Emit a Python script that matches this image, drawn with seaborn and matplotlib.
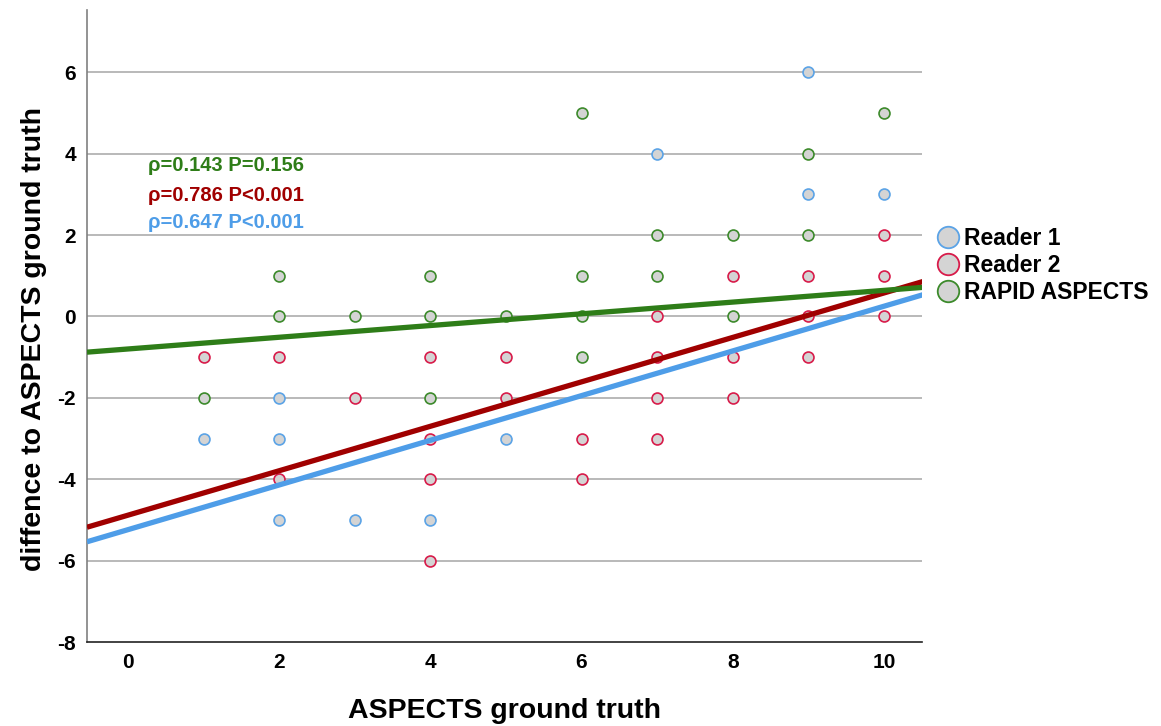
import numpy as np
import pandas as pd
import matplotlib
matplotlib.use("Agg")
import matplotlib.pyplot as plt
from matplotlib.lines import Line2D
import seaborn as sns

# ── data ──────────────────────────────────────────────────────────────────
READER1_X = [1, 2, 2, 2, 3, 4, 5, 7, 9, 9, 10]
READER1_Y = [-3, -2, -3, -5, -5, -5, -3, 4, 6, 3, 3]

READER2_X = [1, 2, 2, 3, 4, 4, 4, 4, 5, 5, 6, 6, 7, 7, 7, 7,
             8, 8, 8, 9, 9, 9, 10, 10, 10]
READER2_Y = [-1, -1, -4, -2, -1, -3, -4, -6, -1, -2, -3, -4, 0, -1, -2, -3,
             1, -1, -2, 1, 0, -1, 2, 1, 0]

RAPID_X = [1, 2, 2, 3, 4, 4, 4, 5, 6, 6, 6, 6, 7, 7, 8, 8, 9, 9, 10]
RAPID_Y = [-2, 1, 0, 0, 1, 0, -2, 0, 5, 1, 0, -1, 2, 1, 2, 0, 4, 2, 5]

SERIES      = ["Reader 1", "Reader 2", "RAPID ASPECTS"]
FIT_SLOPE   = [0.549, 0.546, 0.144]     # regression lines as drawn
FIT_INTERC  = [-5.24, -4.884, -0.80]
RHO_LABELS  = ["\u03c1=0.647 P<0.001", "\u03c1=0.786 P<0.001", "\u03c1=0.143 P=0.156"]

EDGE_COLS = ["#5ba3e6", "#d81b4a", "#3c8a2b"]
LINE_COLS = ["#4e9de8", "#a00000", "#2e7d18"]
FACE      = "#d4d4d4"

sns.set_style("white")
plt.rcParams["font.family"] = ["Liberation Sans", "DejaVu Sans"]
plt.rcParams["font.weight"] = "bold"
plt.rcParams["axes.unicode_minus"] = False
plt.rcParams["text.color"] = "black"
plt.rcParams["xtick.color"] = "black"
plt.rcParams["ytick.color"] = "black"
plt.rcParams["axes.labelcolor"] = "black"

df = pd.concat([
    pd.DataFrame({"x": READER1_X, "y": READER1_Y, "series": SERIES[0]}),
    pd.DataFrame({"x": READER2_X, "y": READER2_Y, "series": SERIES[1]}),
    pd.DataFrame({"x": RAPID_X,   "y": RAPID_Y,   "series": SERIES[2]}),
])

fig = plt.figure(figsize=(11.61, 7.26), dpi=100)
ax = fig.add_axes([0.0749, 0.1157, 0.719, 0.870])

XLIM = (-0.542, 10.50)
YLIM = (-8, 7.52)

for y in range(-6, 7, 2):
    ax.axhline(y, color="#a6a6a6", lw=1.1, zorder=0)

for name, ec in zip(SERIES, EDGE_COLS):
    sns.scatterplot(data=df[df.series == name], x="x", y="y", ax=ax,
                    color=FACE, edgecolor=ec, linewidth=1.2, s=62,
                    zorder=2, legend=False)

# fitted lines on top of the points
xs = np.linspace(XLIM[0], XLIM[1] + 0.04, 50)
for slope, icpt, lc in zip(FIT_SLOPE, FIT_INTERC, LINE_COLS):
    sns.lineplot(x=xs, y=icpt + slope * xs, ax=ax, color=lc, lw=3.8,
                 zorder=3, solid_capstyle="butt")

# correlation annotations (green, red, blue top to bottom)
for lab, lc, yy in zip(RHO_LABELS[::-1], LINE_COLS[::-1], [3.71, 2.97, 2.31]):
    ax.text(0.265, yy, lab, color=lc, fontsize=14.5, fontweight="bold",
            ha="left", va="center")

ax.set_xlim(XLIM)
ax.set_ylim(YLIM)
ax.set_xticks(range(0, 11, 2))
ax.set_yticks(range(-8, 7, 2))
ax.tick_params(length=0, labelsize=15, pad=8)
for lab in ax.get_xticklabels() + ax.get_yticklabels():
    lab.set_fontweight("bold")

ax.set_xlabel("ASPECTS ground truth", fontsize=20.5, fontweight="bold")
ax.set_ylabel("diffence to ASPECTS ground truth", fontsize=20.5,
              fontweight="bold")
ax.xaxis.set_label_coords(0.5, -0.110)
ax.xaxis.label.set_va("center")
ax.yaxis.set_label_coords(-0.064, 0.479)
ax.yaxis.label.set_va("center")

sns.despine(ax=ax)
ax.spines["left"].set_color("#808080")
ax.spines["left"].set_linewidth(1.2)
ax.spines["bottom"].set_color("#222222")
ax.spines["bottom"].set_linewidth(1.2)

handles = [Line2D([], [], marker="o", ls="", markersize=15.5,
                  markerfacecolor=FACE, markeredgecolor=ec,
                  markeredgewidth=1.3, label=name)
           for name, ec in zip(SERIES, EDGE_COLS)]
ax.legend(handles=handles, loc="center left", bbox_to_anchor=(1.005, 0.5965),
          frameon=False, handletextpad=0.05, labelspacing=0.18,
          borderaxespad=0, borderpad=0.3, handlelength=1.3,
          prop={"weight": "bold", "size": 16.5})

fig.savefig("out.png", dpi=100)
